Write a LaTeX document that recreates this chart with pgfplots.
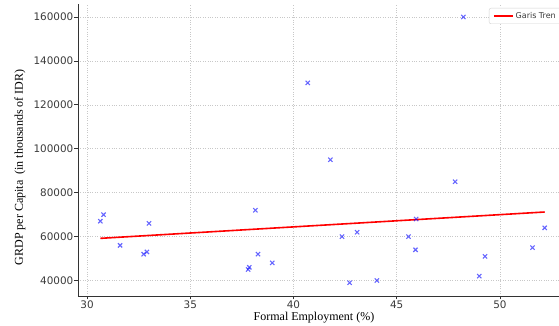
\documentclass[border=0pt]{standalone}
\usepackage{fontspec}
\setmainfont{Liberation Serif}
\newfontfamily\dejavu{DejaVu Sans}
\usepackage{pgfplots}
\pgfplotsset{compat=1.18}
\definecolor{spine}{HTML}{333333}
\definecolor{ticktext}{HTML}{3A3A3A}
\definecolor{gridc}{HTML}{C8C8C8}
\definecolor{mblue}{HTML}{0000FF}
\begin{document}
\begin{tikzpicture}
\path[use as bounding box] (-78pt,-30pt) rectangle (481pt,296pt);
\begin{scope}[overlay]
\clip (-78pt,-30pt) rectangle (481pt,296pt);
\begin{axis}[
  at={(0pt,0pt)}, anchor=south west,
  scale only axis,
  width=489pt, height=292.3pt,
  xmin=29.56, xmax=53.25,
  ymin=32950, ymax=166050,
  axis x line*=bottom, axis y line*=left,
  axis line style={-, spine, line width=0.9pt},
  xtick={30,35,40,45,50},
  xticklabels={30,35,40,45,50},
  ytick={40000,60000,80000,100000,120000,140000,160000},
  yticklabels={40000,60000,80000,100000,120000,140000,160000},
  scaled y ticks=false,
  tick align=outside,
  major tick length=3.5pt,
  tick style={spine, line width=0.8pt},
  tick label style={font=\dejavu\fontsize{10.4}{12}\selectfont, text=ticktext, inner sep=1pt},
  grid=major,
  major grid style={gridc, dotted, line width=0.6pt},
  xlabel={Formal Employment (\%)},
  ylabel={GRDP per Capita\ \ (in thousands of IDR)},
  xlabel style={font=\fontsize{12}{14}\selectfont, inner sep=0pt, at={(axis description cs:0.4826,-0.0755)}, anchor=center},
  ylabel style={font=\fontsize{12}{14}\selectfont, inner sep=0pt, at={(axis description cs:-0.1186,0.44)}, anchor=center},
  legend style={at={(1,1)}, xshift=-5pt, yshift=-4.3pt, anchor=north east,
    font=\dejavu\fontsize{8}{9}\selectfont, text=ticktext,
    draw=gray!35, rounded corners=2pt, inner xsep=4pt, inner ysep=2pt},
  legend cell align=left,
]
\addplot[only marks, mark=x, mark size=3pt, mark options={draw=mblue, line width=1.1pt, opacity=0.6}, forget plot] coordinates {
(30.64,67000) (30.8,70000) (31.6,56000) (32.74,52000) (32.9,53000) (33.0,66000)
(37.8,45000) (37.86,46000) (38.15,72000) (38.28,52000) (38.97,48000)
(40.69,130000) (41.79,95000) (42.35,60000) (42.72,39000) (43.08,62000)
(44.04,40000) (45.57,60000) (45.91,54000) (45.94,68000) (47.83,85000)
(48.23,160000) (49.0,42000) (49.28,51000) (51.58,55000) (52.17,64000)
};
\addplot[red, line width=1.6pt, legend image code/.code={\draw[red, line width=1.6pt] (0pt,0pt) -- (19pt,0pt);}] coordinates {(30.64,59200) (52.17,71200)};
\addlegendentry{Garis Tren}
\end{axis}
\end{scope}
\end{tikzpicture}
\end{document}
